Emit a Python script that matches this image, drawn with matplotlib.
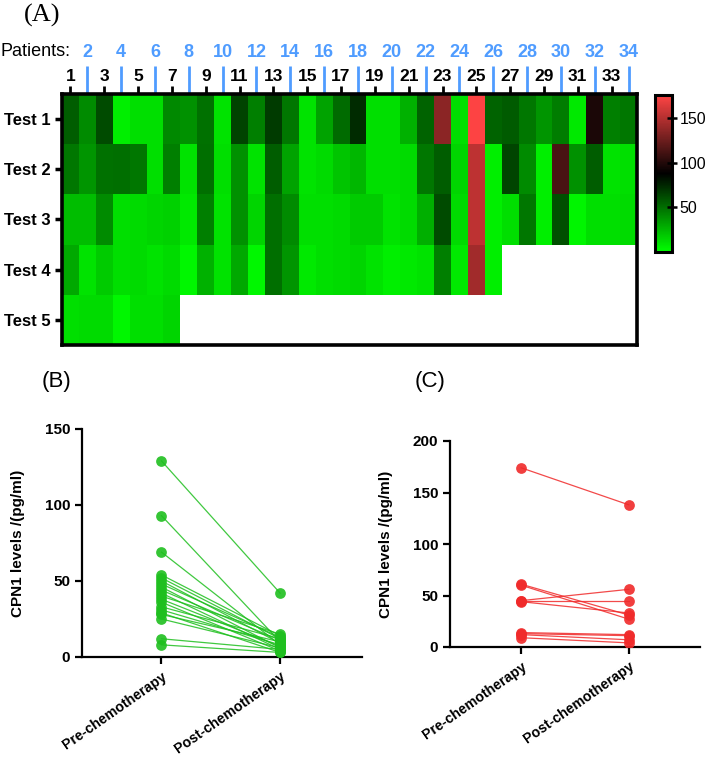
import numpy as np
import matplotlib.pyplot as plt
from matplotlib.colors import LinearSegmentedColormap

plt.rcParams["font.family"] = ["Liberation Sans", "DejaVu Sans"]

# heatmap data: CPN1 level per patient and test (pg/ml), missing tests left out
patients = list(range(1, 35))
test_names = ["Test 1", "Test 2", "Test 3", "Test 4", "Test 5"]
test1 = [56, 40, 62, 6, 11, 11, 41, 38, 49, 10, 65, 44, 68, 47, 10, 32, 51, 73,
         11, 11, 27, 54, 136, 11, 175, 54, 57, 47, 37, 45, 8, 97, 44, 47]
test2 = [47, 37, 49, 50, 47, 11, 44, 10, 50, 11, 38, 10, 56, 32, 10, 13, 20, 25,
         11, 11, 13, 47, 56, 15, 153, 6, 64, 40, 6, 113, 38, 56, 10, 11]
test3 = [23, 23, 40, 11, 13, 15, 16, 8, 44, 10, 38, 15, 50, 40, 11, 11, 13, 18,
         18, 10, 13, 28, 62, 13, 153, 6, 11, 47, 6, 61, 4, 11, 11, 13]
test4 = [30, 10, 18, 11, 13, 10, 13, 3, 27, 10, 30, 3, 50, 37, 8, 11, 13, 15,
         10, 6, 8, 10, 44, 8, 143, 6]
test5 = [11, 13, 13, 3, 11, 11, 15]

# paired data
groups = ["Pre-chemotherapy", "Post-chemotherapy"]
pre_b = [129, 93, 69, 54, 52, 50, 48, 46, 44, 42, 40, 38, 36, 33, 31, 29, 28, 25, 12, 8]
post_b = [42, 10, 8, 14, 12, 9, 13, 6, 11, 5, 15, 7, 4, 12, 8, 3, 10, 6, 5, 3]
pre_c = [174, 61, 60, 45, 45, 44, 14, 13, 12, 9]
post_c = [138, 31, 27, 56, 45, 33, 12, 11, 7, 4]

W, H = 706, 758
fig = plt.figure(figsize=(W / 100, H / 100), dpi=100)


def box(x0, y0, x1, y1):
    # pixel box -> figure fraction rect
    return [x0 / W, 1 - y1 / H, (x1 - x0) / W, (y1 - y0) / H]


# ---------- (A) heatmap ----------
rows = [test1, test2, test3, test4, test5]
grid = np.full((5, 34), np.nan)
for i, r in enumerate(rows):
    grid[i, :len(r)] = r
grid = np.ma.masked_invalid(grid)

cmap = LinearSegmentedColormap.from_list("gbr", [(0, "#00ff00"), (0.5, "#000000"), (1, "#ff4444")])
cmap.set_bad("white")

ax = fig.add_axes(box(62, 94, 637, 345))
x_edges = np.arange(0.5, 35.5, 1)
y_edges = np.arange(0.5, 6.5, 1)
mesh = ax.pcolormesh(x_edges, y_edges, grid, cmap=cmap, vmin=0, vmax=176)
ax.set_xlim(0.5, 34.5)
ax.set_ylim(5.5, 0.5)
for s in ax.spines.values():
    s.set_linewidth(2.6)

ax.xaxis.tick_top()
odd = [p for p in patients if p % 2 == 1]
even = [p for p in patients if p % 2 == 0]
ax.set_xticks(odd)
ax.set_xticklabels([str(p) for p in odd], fontsize=12.5, fontweight="bold")
ax.set_xticks(even, minor=True)
ax.set_xticklabels([str(p) for p in even], minor=True, fontsize=13,
                   fontweight="bold", color="#4f9cff")
ax.tick_params(axis="x", which="major", length=5.5, width=2, pad=2)
ax.tick_params(axis="x", which="minor", length=20, width=2, color="#4f9cff", pad=4)
ax.set_yticks(range(1, 6))
ax.set_yticklabels(test_names, fontsize=12, fontweight="bold")
ax.tick_params(axis="y", length=5, width=2.5, pad=3)

fig.text(1 / W, 1 - 51 / H, "Patients:", fontsize=13, va="center", ha="left")
fig.text(24 / W, 1 - 15 / H, "(A)", fontsize=19, va="center", ha="left",
         family=["Liberation Serif", "DejaVu Serif"])

cax = fig.add_axes(box(655, 95, 672, 252))
cb = fig.colorbar(mesh, cax=cax)
cb.set_ticks([50, 100, 150])
cb.outline.set_linewidth(2.2)
cax.tick_params(length=7, width=1.8, direction="inout", labelsize=11.5, pad=2)


# ---------- (B) and (C) paired plots ----------
def paired(rect, pre, post, color, ymax, step, xr):
    a = fig.add_axes(rect)
    for p0, p1 in zip(pre, post):
        a.plot([0, 1], [p0, p1], color=color, lw=0.9, alpha=0.85)
    a.scatter([0] * len(pre), pre, s=60, color=color, zorder=3, alpha=0.9, lw=0)
    a.scatter([1] * len(post), post, s=60, color=color, zorder=3, alpha=0.9, lw=0)
    a.set_xlim(*xr)
    a.set_ylim(0, ymax)
    a.set_yticks(np.arange(0, ymax + 1, step))
    a.set_xticks([0, 1])
    a.set_xticklabels(groups, rotation=35, ha="right", rotation_mode="anchor",
                      fontsize=10.2, fontweight="bold")
    for lab in a.get_yticklabels():
        lab.set_fontweight("bold")
    a.tick_params(axis="y", labelsize=11, length=5, width=1.6)
    a.tick_params(axis="x", length=5, width=1.6, pad=4)
    a.spines["top"].set_visible(False)
    a.spines["right"].set_visible(False)
    a.spines["left"].set_linewidth(1.6)
    a.spines["bottom"].set_linewidth(1.6)
    a.set_ylabel("CPN1 levels /(pg/ml)", fontsize=11, fontweight="bold", labelpad=14)
    return a


paired(box(82, 429, 362, 657), pre_b, post_b, "#1fbf1f", 150, 50, (-0.67, 1.69))
paired(box(450, 441, 700, 647), pre_c, post_c, "#f02a2a", 200, 50, (-0.66, 1.66))

fig.text(42 / W, 1 - 381 / H, "(B)", fontsize=16, va="center", ha="left")
fig.text(415 / W, 1 - 381 / H, "(C)", fontsize=16, va="center", ha="left")

fig.savefig("out.png", dpi=100)
